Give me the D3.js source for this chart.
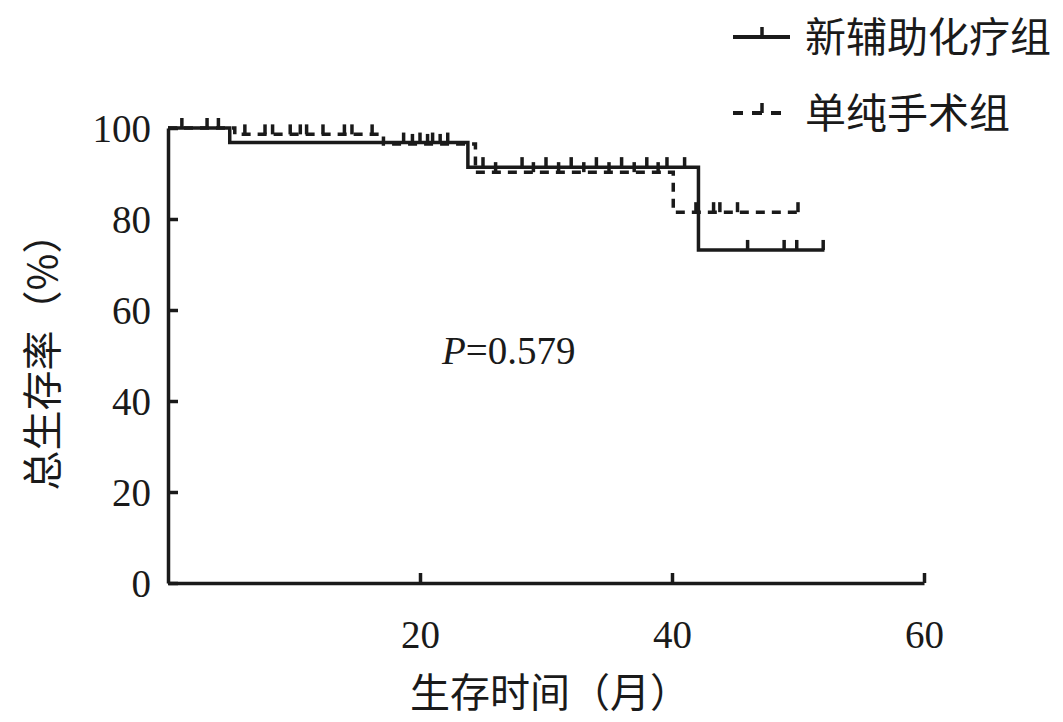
<!DOCTYPE html>
<html>
<head>
<meta charset="utf-8">
<script src="https://cdn.jsdelivr.net/npm/d3@7"></script>
<style>
  html, body { margin: 0; padding: 0; background: #fff; }
  svg { display: block; }
</style>
</head>
<body>
<svg id="chart" width="1063" height="722"></svg>
<script>
// ---- data ----
const groupNames = ["新辅助化疗组", "单纯手术组"];
// Kaplan-Meier steps (time in months, survival % after the step)
const neoStepTimes = [0, 4.9, 23.8, 42.1];
const neoStepSurv  = [100, 96.8, 91.4, 73.2];
const neoEnd = 52.1;
const neoCensor = [1.1, 3.1, 18.7, 20.0, 21.0, 22.2, 25.0, 28.1, 30.0, 32.0, 34.0, 36.0, 38.0, 39.6, 41.0, 46.0, 48.9, 49.9, 52.0];

const surStepTimes = [0, 5.3, 17.1, 24.4, 40.1];
const surStepSurv  = [100, 98.6, 96.5, 90.3, 81.5];
const surEnd = 50.1;
const surCensor = [4.0, 6.1, 7.7, 8.3, 9.7, 10.5, 11.0, 12.3, 14.0, 14.6, 16.2, 19.4, 20.6, 21.6, 26.0, 29.0, 31.0, 33.0, 35.0, 37.0, 38.9, 41.9, 43.3, 43.8, 45.2, 50.0];

const xTicks = [20, 40, 60];
const yTicks = [0, 20, 40, 60, 80, 100];
const xTitle = "生存时间（月）";
const yTitle = "总生存率（%）";
const pText = "=0.579";

// ---- drawing ----
const svg = d3.select("#chart");
const ink = "#1a1a1a";
const serif = "'Liberation Serif', 'Times New Roman', serif";
const cjk = "'Noto Sans CJK SC', sans-serif";
const sw = 3.5;

const x = d3.scaleLinear().domain([0, 60]).range([168, 924]);
const y = d3.scaleLinear().domain([0, 100]).range([583, 128]);

function survAt(times, surv, t) {
  let v = surv[0];
  for (let i = 0; i < times.length; i++) if (times[i] <= t) v = surv[i];
  return v;
}

// axes
const xAxis = d3.axisBottom(x).tickValues(xTicks).tickSizeInner(-10).tickSizeOuter(0).tickPadding(37).tickFormat(d3.format("d"));
const gx = svg.append("g").attr("transform", `translate(0,${y(0)})`).call(xAxis);
const yAxis = d3.axisLeft(y).tickValues(yTicks).tickSizeInner(-10).tickSizeOuter(0).tickPadding(17).tickFormat(d3.format("d"));
const gy = svg.append("g").attr("transform", `translate(${x(0)},0)`).call(yAxis);

[gx, gy].forEach(g => {
  g.select(".domain").attr("stroke", ink).attr("stroke-width", sw);
  g.selectAll(".tick line").attr("stroke", ink).attr("stroke-width", sw);
  g.selectAll(".tick text").attr("fill", ink).attr("font-family", serif).attr("font-size", 39);
});
gy.selectAll(".tick text").attr("dy", "0.34em");
gx.selectAll(".tick text").attr("dy", "0.71em");

// curves
const line = d3.line().x(d => x(d[0])).y(d => y(d[1])).curve(d3.curveStepAfter);
function pts(times, surv, end) {
  const p = times.map((t, i) => [t, surv[i]]);
  p.push([end, surv[surv.length - 1]]);
  return p;
}
const groups = [
  { times: surStepTimes, surv: surStepSurv, end: surEnd, censor: surCensor, dash: "9,7" },
  { times: neoStepTimes, surv: neoStepSurv, end: neoEnd, censor: neoCensor, dash: null }
];
groups.forEach(g => {
  svg.append("path")
    .attr("d", line(pts(g.times, g.surv, g.end)))
    .attr("fill", "none").attr("stroke", ink).attr("stroke-width", sw)
    .attr("stroke-dasharray", g.dash);
  svg.append("g").selectAll("line").data(g.censor).join("line")
    .attr("x1", d => x(d)).attr("x2", d => x(d))
    .attr("y1", d => y(survAt(g.times, g.surv, d)))
    .attr("y2", d => y(survAt(g.times, g.surv, d)) - 10)
    .attr("stroke", ink).attr("stroke-width", sw);
});

// P value
const pt = svg.append("text").attr("x", 442).attr("y", 364)
  .attr("font-family", serif).attr("font-size", 39).attr("fill", ink);
pt.append("tspan").attr("font-style", "italic").text("P");
pt.append("tspan").text(pText);

// axis titles
svg.append("text").attr("x", 550).attr("y", 707).attr("text-anchor", "middle")
  .attr("font-family", cjk).attr("font-size", 40).attr("fill", ink).text(xTitle);
svg.append("text").attr("transform", "translate(57,352) rotate(-90)").attr("text-anchor", "middle")
  .attr("font-family", cjk).attr("font-size", 40).attr("fill", ink).text(yTitle);

// legend
const leg = svg.append("g");
const legY = [37, 113];
const legDash = [null, "10,9"];
groupNames.forEach((name, i) => {
  leg.append("line").attr("x1", 733).attr("x2", 790).attr("y1", legY[i]).attr("y2", legY[i])
    .attr("stroke", ink).attr("stroke-width", 4).attr("stroke-dasharray", legDash[i]);
  leg.append("line").attr("x1", 762).attr("x2", 762).attr("y1", legY[i]).attr("y2", legY[i] - 10)
    .attr("stroke", ink).attr("stroke-width", sw);
  leg.append("text").attr("x", 805).attr("y", legY[i] + 15)
    .attr("font-family", cjk).attr("font-size", 41).attr("fill", ink).text(name);
});
</script>
</body>
</html>
